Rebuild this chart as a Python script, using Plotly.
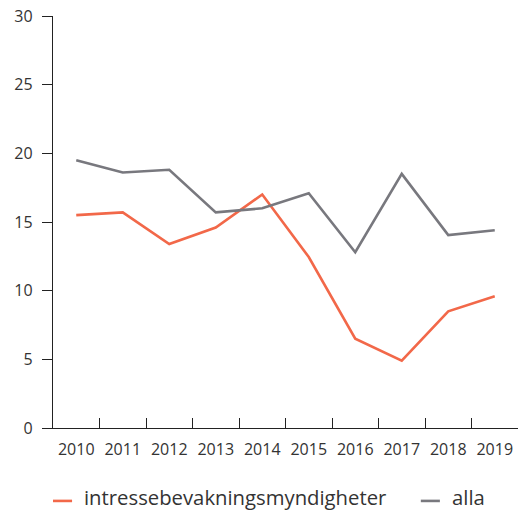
import plotly.graph_objects as go

years = ["2010", "2011", "2012", "2013", "2014", "2015", "2016", "2017", "2018", "2019"]
intressebevakning = [15.5, 15.7, 13.4, 14.6, 17.0, 12.45, 6.5, 4.9, 8.5, 9.6]
alla = [19.5, 18.6, 18.8, 15.7, 16.0, 17.1, 12.8, 18.5, 14.05, 14.4]

series = [
    ("intressebevakningsmyndigheter", intressebevakning, "#F26849"),
    ("alla", alla, "#78787E"),
]

AXIS = "#222222"
TEXT = "#333333"
FONT = "Open Sans"

fig = go.Figure()
for name, values, color in series:
    fig.add_trace(go.Scatter(x=years, y=values, mode="lines", name=name,
                             line=dict(color=color, width=2.6),
                             showlegend=False))

# Legend row below the plot: short line swatch followed by the series name
legend_y = -0.168
legend_items = [(0.0, "intressebevakningsmyndigheter"), (0.791, "alla")]
for (x0, name), (_, _, color) in zip(legend_items, series):
    fig.add_shape(type="line", xref="paper", yref="paper",
                  x0=x0, x1=x0 + 0.041, y0=-0.177, y1=-0.177,
                  line=dict(color=color, width=2.6))
    fig.add_annotation(xref="paper", yref="paper", x=x0 + 0.062, y=legend_y,
                       xanchor="left", yanchor="middle", showarrow=False,
                       text=name, font=dict(size=20.3, color=TEXT))

fig.update_layout(
    width=523, height=511,
    margin=dict(l=53, r=5, t=16, b=83),
    paper_bgcolor="white", plot_bgcolor="white",
    font=dict(family=FONT, size=16, color=TEXT),
    xaxis=dict(type="category", range=[-0.5, 9.5], tickson="boundaries",
               ticks="inside", ticklen=10, tickcolor=AXIS, tickwidth=1.3,
               showline=True, linecolor=AXIS, linewidth=1.3,
               showgrid=False, zeroline=False, ticklabelstandoff=7,
               tickfont=dict(size=16, color=TEXT)),
    yaxis=dict(range=[0, 30], dtick=5, ticks="outside", ticklen=10,
               tickcolor=AXIS, tickwidth=1.3,
               showline=True, linecolor=AXIS, linewidth=1.3,
               showgrid=False, zeroline=False, ticklabelstandoff=6,
               tickfont=dict(size=16, color=TEXT)),
)

fig.write_html("out.html")
